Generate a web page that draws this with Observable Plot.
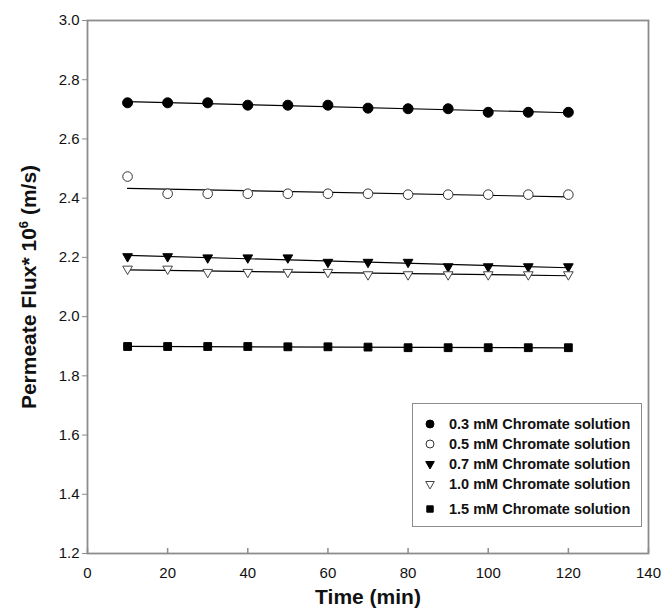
<!DOCTYPE html>
<html><head><meta charset="utf-8">
<script src="https://cdn.jsdelivr.net/npm/d3@7"></script>
<script src="https://cdn.jsdelivr.net/npm/@observablehq/plot@0.6"></script>
<style>
body{margin:0;background:#fff;font-family:"Liberation Sans",Arial,sans-serif}
#wrap{position:relative;width:665px;height:615px}
#legend{position:absolute;left:412px;top:403px;width:230px;height:124px;border:1.5px solid #8c8c8c;box-sizing:border-box;background:#fff}
.lrow{position:absolute;left:0;height:20px;display:flex;align-items:center;font-weight:bold;font-size:14.5px;color:#111;white-space:nowrap}
.lrow svg{width:22px;height:20px;margin-left:6px;margin-right:8px}
svg g[aria-label="y-axis tick"], svg g[aria-label="x-axis tick"]{stroke:#8c8c8c}
svg g[aria-label="y-axis label"] text, svg g[aria-label="x-axis label"] text{font-weight:bold;font-size:21px;fill:#111}
</style></head><body><div id="wrap"></div>
<script>
const time = [10,20,30,40,50,60,70,80,90,100,110,120];
const seriesLabels = ["0.3 mM Chromate solution","0.5 mM Chromate solution","0.7 mM Chromate solution","1.0 mM Chromate solution","1.5 mM Chromate solution"];
const flux03 = [2.722,2.722,2.722,2.714,2.714,2.714,2.704,2.702,2.702,2.690,2.690,2.690];
const flux05 = [2.473,2.415,2.415,2.415,2.415,2.415,2.415,2.412,2.412,2.412,2.412,2.412];
const flux07 = [2.203,2.203,2.199,2.199,2.199,2.184,2.184,2.184,2.169,2.169,2.169,2.169];
const flux10 = [2.161,2.161,2.150,2.150,2.150,2.150,2.142,2.142,2.142,2.142,2.142,2.142];
const flux15 = [1.899,1.899,1.899,1.899,1.898,1.898,1.897,1.895,1.895,1.895,1.895,1.895];
const xTicks = [0,20,40,60,80,100,120,140];
const yTicks = [1.2,1.4,1.6,1.8,2.0,2.2,2.4,2.6,2.8,3.0];

const seriesValues = [flux03, flux05, flux07, flux10, flux15];
const styles = [
  {symbol:"circle", fill:"#000", stroke:"#000", r:5, rotate:0},
  {symbol:"circle", fill:"#fff", stroke:"#333", r:4.8, rotate:0},
  {symbol:"triangle", fill:"#000", stroke:"#000", r:3.6, rotate:180},
  {symbol:"triangle", fill:"#fff", stroke:"#444", r:3.6, rotate:180},
  {symbol:"square", fill:"#000", stroke:"#000", r:4.4, rotate:0}
];
const rows = seriesLabels.flatMap((s,i)=>time.map((t,j)=>({series:s, idx:i, time:t, flux:seriesValues[i][j]})));

const chart = Plot.plot({
  width:665, height:615,
  marginLeft:87, marginRight:17, marginTop:20, marginBottom:62,
  style:{fontFamily:"Liberation Sans, Arial, sans-serif", fontSize:"15px", color:"#111", background:"#fff"},
  x:{domain:[0,140]},
  y:{domain:[1.2,3.0]},
  marks:[
    ...seriesLabels.map((s,i)=>Plot.linearRegressionY(rows.filter(d=>d.idx===i),{x:"time", y:"flux", ci:0, stroke:"#000", strokeWidth:1.2})),
    ...seriesLabels.map((s,i)=>Plot.dot(rows.filter(d=>d.idx===i),{x:"time", y:"flux", symbol:styles[i].symbol, fill:styles[i].fill, stroke:styles[i].stroke, strokeWidth:1, r:styles[i].r, rotate:styles[i].rotate})),
    Plot.tickX(xTicks,{x:d=>d, insetTop:528, stroke:"#8c8c8c", strokeWidth:1.5}),
    Plot.axisX({ticks:xTicks, tickSize:0, tickPadding:14, label:"Time (min)", labelAnchor:"center", labelArrow:"none", labelOffset:50}),
    Plot.axisY({ticks:yTicks, tickFormat:d3.format(".1f"), tickSize:5, tickPadding:3, label:"Permeate Flux* 10^6 (m/s)", labelAnchor:"center", labelArrow:"none", labelOffset:66}),
    Plot.frame({stroke:"#8c8c8c", strokeWidth:1.8})
  ]
});
document.getElementById("wrap").appendChild(chart);

// x label: ensure plain text (no arrow)
const xl = chart.querySelector('g[aria-label="x-axis label"] text');
if (xl) xl.textContent = "Time (min)";

// superscript in y label
const yl = chart.querySelector('g[aria-label="y-axis label"] text');
if (yl) {
  yl.textContent = "";
  const NS = "http://www.w3.org/2000/svg";
  const t1 = document.createElementNS(NS,"tspan"); t1.textContent = "Permeate Flux* 10";
  const t2 = document.createElementNS(NS,"tspan"); t2.textContent = "6"; t2.setAttribute("dy","-8"); t2.setAttribute("font-size","13px");
  const t3 = document.createElementNS(NS,"tspan"); t3.textContent = " (m/s)"; t3.setAttribute("dy","8");
  yl.append(t1,t2,t3);
}

// legend
const legend = document.createElement("div");
legend.id = "legend";
const rowTops = [10, 30, 50, 70, 95];
seriesLabels.forEach((s,i)=>{
  const row = document.createElement("div");
  row.className = "lrow";
  row.style.top = rowTops[i] + "px";
  const st = styles[i];
  const sym = {circle:d3.symbolCircle, triangle:d3.symbolTriangle, square:d3.symbolSquare}[st.symbol];
  const sz = st.symbol==="circle" ? Math.PI*16 : st.symbol==="triangle" ? Math.PI*3.2*3.2 : Math.PI*3.6*3.6;
  const path = d3.symbol(sym, sz)();
  row.innerHTML = `<svg viewBox="-11 -10 22 20"><path d="${path}" transform="rotate(${st.rotate})" fill="${st.fill}" stroke="${st.stroke}" stroke-width="1"/></svg><span>${s}</span>`;
  legend.appendChild(row);
});
document.getElementById("wrap").appendChild(legend);
</script>
</body></html>
